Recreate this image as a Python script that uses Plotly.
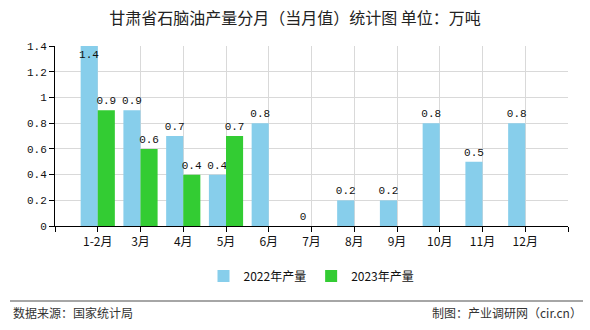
import plotly.graph_objects as go

categories = ["1-2月", "3月", "4月", "5月", "6月", "7月", "8月", "9月", "10月", "11月", "12月"]
values_2022 = [1.4, 0.9, 0.7, 0.4, 0.8, 0, 0.2, 0.2, 0.8, 0.5, 0.8]
values_2023 = [0.9, 0.6, 0.4, 0.7, None, None, None, None, None, None, None]
y_ticks = [0, 0.2, 0.4, 0.6, 0.8, 1, 1.2, 1.4]
y_max = 1.4

idx = list(range(len(categories)))
mono = "Liberation Mono"
cjk = "Noto Sans CJK SC"

def positions(vals):
    return ["inside" if (v is not None and v >= y_max) else "outside" for v in vals]

def texts(vals):
    return ["" if v is None else ("%g" % v) for v in vals]

fig = go.Figure()
fig.add_trace(go.Bar(
    x=idx, y=values_2022, name="2022年产量", width=0.4, offset=-0.4,
    marker=dict(color="#87CEEB", line=dict(width=0)),
    text=texts(values_2022), textposition=positions(values_2022), textangle=0,
    insidetextanchor="end", constraintext="none", cliponaxis=False,
    textfont=dict(family=mono, size=11, color="#111"),
    hoverinfo="skip",
))
fig.add_trace(go.Bar(
    x=idx, y=values_2023, name="2023年产量", width=0.4, offset=0,
    marker=dict(color="#33CC33", line=dict(width=0)),
    text=texts(values_2023), textposition=positions(values_2023), textangle=0,
    insidetextanchor="end", constraintext="none", cliponaxis=False,
    textfont=dict(family=mono, size=11, color="#111"),
    hoverinfo="skip",
))

tickvals = list(range(-1, len(categories) + 1))
ticktext = [""] + categories + [""]

fig.update_layout(
    width=590, height=330,
    margin=dict(l=55, r=22, t=46, b=101),
    paper_bgcolor="white", plot_bgcolor="white",
    barmode="overlay",
    title=dict(text="甘肃省石脑油产量分月（当月值）统计图 单位：万吨",
               x=0.5, xanchor="center", y=1 - 18 / 330, yanchor="middle",
               font=dict(family=cjk, size=16, color="#222")),
    xaxis=dict(range=[-1, len(categories)], tickvals=tickvals, ticktext=ticktext,
               showgrid=True, gridcolor="#d9d9d9", gridwidth=1,
               showline=True, linecolor="#000", linewidth=1,
               ticks="outside", ticklen=5, tickcolor="#000",
               tickfont=dict(family=cjk, size=12, color="#111"), zeroline=False),
    yaxis=dict(range=[0, y_max], tickvals=y_ticks, ticktext=["%g" % t for t in y_ticks],
               showgrid=True, gridcolor="#d9d9d9", gridwidth=1,
               showline=True, linecolor="#000", linewidth=1,
               ticks="outside", ticklen=5, tickcolor="#000",
               tickfont=dict(family=mono, size=11, color="#111"), zeroline=False),
    legend=dict(orientation="h", x=0.5, xanchor="center", y=1 - 276 / 330, yref="container",
                yanchor="middle", font=dict(family=cjk, size=12, color="#111"),
                itemwidth=30, tracegroupgap=0),
    showlegend=True,
)

# footer
pw = 513.0
ph = 183.0
def px(x):
    return (x - 55) / pw
def py(y):
    return (229 - y) / ph

fig.add_shape(type="line", xref="paper", yref="paper",
              x0=px(10), x1=px(583), y0=py(305), y1=py(305),
              line=dict(color="#888", width=1.5))
fig.add_annotation(text="数据来源：国家统计局", xref="paper", yref="paper",
                   x=px(11), y=py(317), xanchor="left", yanchor="middle", showarrow=False,
                   font=dict(family=cjk, size=12, color="#333"))
fig.add_annotation(text="制图：产业调研网（cir.cn）", xref="paper", yref="paper",
                   x=px(584), y=py(317), xanchor="right", yanchor="middle", showarrow=False,
                   font=dict(family=cjk, size=12, color="#333"))

fig.write_html("out.html")
